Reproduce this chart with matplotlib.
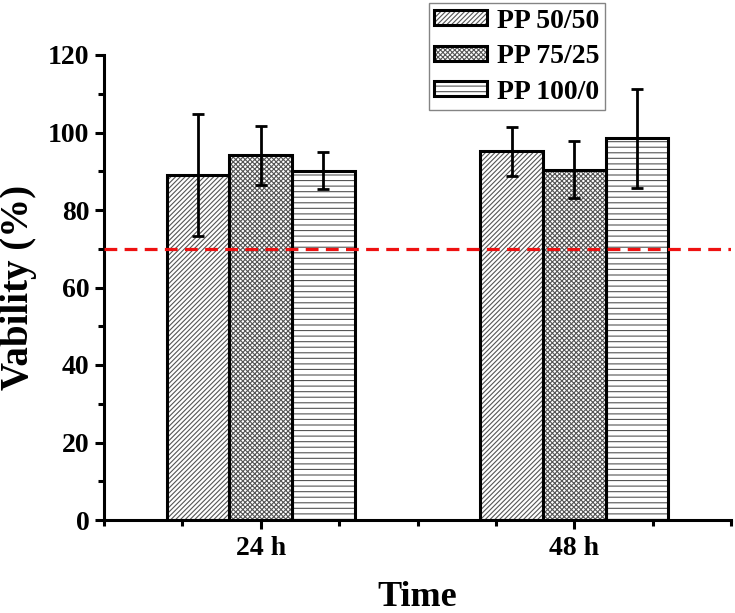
import numpy as np
import matplotlib
matplotlib.use("Agg")
import matplotlib.pyplot as plt
from matplotlib.ticker import MultipleLocator

# data
times = ["24 h", "48 h"]
series = ["PP 50/50", "PP 75/25", "PP 100/0"]
pp_50_50 = [89.1, 95.1]
pp_75_25 = [94.1, 90.4]
pp_100_0 = [90.1, 98.5]
err_50_50 = [15.7, 6.4]
err_75_25 = [7.6, 7.3]
err_100_0 = [4.8, 12.8]
threshold = 70

plt.rcParams['font.family'] = ['Liberation Serif', 'DejaVu Serif']
plt.rcParams['font.weight'] = 'bold'
plt.rcParams['hatch.linewidth'] = 0.8

fig = plt.figure(figsize=(7.35, 6.13), dpi=100)
ax = fig.add_axes([104/735, 1-520/613, 627/735, 465/613])

x = np.arange(1, len(times)+1)
w = 0.2
vals = [pp_50_50, pp_75_25, pp_100_0]
errs = [err_50_50, err_75_25, err_100_0]
hatches = ['///////', 'xxxxxxx', '---']
handles = []
for k in range(3):
    xk = x + (k-1)*w
    # hatch in grey, outline in black on top
    hb = ax.bar(xk, vals[k], w, color='white', edgecolor='#555555', linewidth=0,
                hatch=hatches[k], zorder=2)
    ob = ax.bar(xk, vals[k], w, fill=False, edgecolor='black', linewidth=2.2, zorder=2.5)
    handles.append((hb[0], ob[0]))
    ax.errorbar(xk, vals[k], yerr=errs[k], fmt='none', ecolor='black',
                elinewidth=2, capsize=4.5, capthick=2, zorder=3)

ax.axhline(threshold, color='#ee1111', lw=2.3, dashes=(4, 2.3), zorder=4)

ax.set_xlim(0.5, 2.5)
ax.set_ylim(0, 120)
ax.set_xticks(x)
ax.set_xticklabels(times)
ax.xaxis.set_minor_locator(MultipleLocator(0.25))
ax.yaxis.set_major_locator(MultipleLocator(20))
ax.yaxis.set_minor_locator(MultipleLocator(10))

for s in ['top', 'right']:
    ax.spines[s].set_visible(False)
for s in ['left', 'bottom']:
    ax.spines[s].set_linewidth(2.2)
ax.tick_params(which='major', direction='out', length=6.5, width=2.2, labelsize=20, pad=4)
ax.tick_params(axis='x', which='major', pad=5)
ax.tick_params(which='minor', direction='out', length=4.5, width=2.2)

ax.set_ylabel("Vability (%)", fontsize=28, fontweight='bold')
ax.yaxis.set_label_coords(-0.107, 0.5)
ax.set_xlabel("Time", fontsize=26, fontweight='bold')
ax.xaxis.label.set_va('baseline')
ax.xaxis.set_label_coords(0.5, -(606-520)/465)

leg = ax.legend(handles, series, loc='upper right', bbox_to_anchor=(605/735, 1-3/613),
                bbox_transform=fig.transFigure, fontsize=20, frameon=True, fancybox=False,
                handlelength=1.9, handleheight=0.45, labelspacing=0.38, handletextpad=0.35,
                borderpad=0.2, borderaxespad=0)
leg.get_frame().set_edgecolor('#666666')
leg.get_frame().set_linewidth(1.0)

fig.savefig("out.png", dpi=100)
